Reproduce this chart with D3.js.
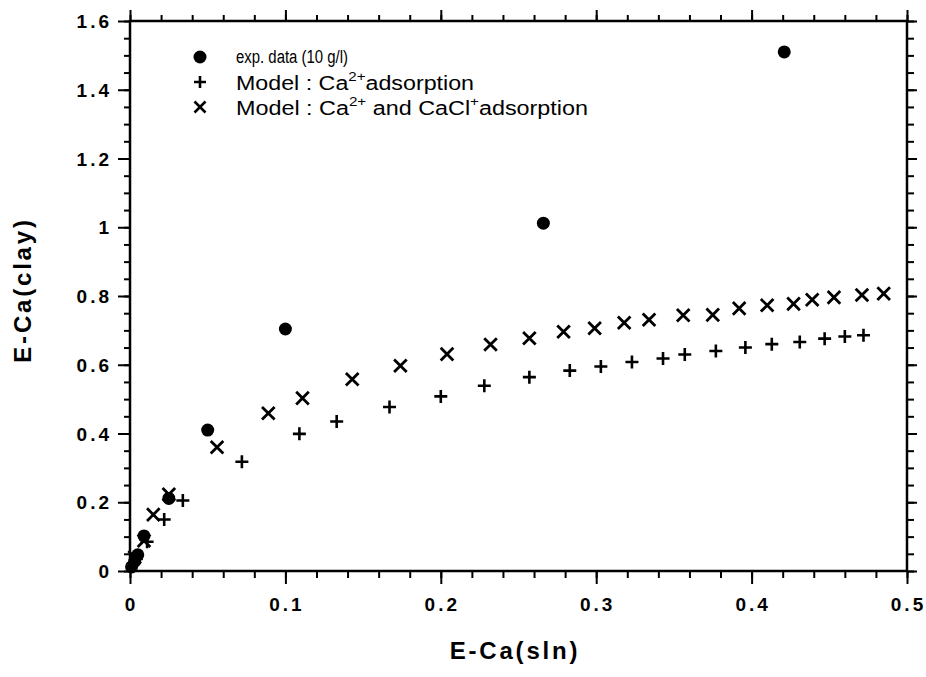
<!DOCTYPE html>
<html><head><meta charset="utf-8">
<script src="https://cdn.jsdelivr.net/npm/d3@7"></script>
<style>
body{margin:0;background:#fff}
svg{display:block}
.tick-label{font-family:"Liberation Sans",Arial,Helvetica,sans-serif;font-weight:bold;font-size:19px;letter-spacing:3px;fill:#000}
.axis-title{font-family:"Liberation Sans",Arial,Helvetica,sans-serif;font-weight:bold;font-size:24px;letter-spacing:2.8px;fill:#000}
.legend-text{font-family:"Liberation Sans",Arial,Helvetica,sans-serif;font-size:20px;fill:#000}
</style></head><body>
<svg id="chart" width="926" height="677"></svg>
<script>
// Experimental data (10 g/l)
const expX = [0.001, 0.003, 0.005, 0.009, 0.025, 0.050, 0.100, 0.266, 0.421];
const expY = [0.012, 0.028, 0.047, 0.102, 0.211, 0.410, 0.704, 1.012, 1.510];

// Model: Ca2+ adsorption
const caX = [0.004, 0.011, 0.022, 0.034, 0.072, 0.109, 0.133, 0.167, 0.200, 0.228, 0.257, 0.283,
             0.303, 0.323, 0.343, 0.357, 0.377, 0.396, 0.413, 0.431, 0.447, 0.460, 0.472];
const caY = [0.035, 0.085, 0.150, 0.205, 0.318, 0.399, 0.435, 0.477, 0.508, 0.539, 0.564, 0.583,
             0.595, 0.608, 0.618, 0.630, 0.640, 0.650, 0.660, 0.666, 0.676, 0.682, 0.686];

// Model: Ca2+ and CaCl+ adsorption
const caclX = [0.003, 0.009, 0.015, 0.025, 0.056, 0.089, 0.111, 0.143, 0.174, 0.204, 0.232, 0.257, 0.279,
               0.299, 0.318, 0.334, 0.356, 0.375, 0.392, 0.410, 0.427, 0.439, 0.453, 0.471, 0.485];
const caclY = [0.040, 0.088, 0.164, 0.223, 0.360, 0.459, 0.503, 0.558, 0.597, 0.631, 0.659, 0.677, 0.696,
               0.706, 0.722, 0.731, 0.744, 0.745, 0.764, 0.773, 0.777, 0.789, 0.796, 0.803, 0.807];

// Axis ticks
const xMajor = [0, 0.1, 0.2, 0.3, 0.4, 0.5];
const xTickLabels = ["0", "0.1", "0.2", "0.3", "0.4", "0.5"];
const yMajor = [0, 0.2, 0.4, 0.6, 0.8, 1.0, 1.2, 1.4, 1.6];
const yTickLabels = ["0", "0.2", "0.4", "0.6", "0.8", "1", "1.2", "1.4", "1.6"];

const svg = d3.select("#chart");
const plotLeft = 130, plotRight = 907, plotTop = 21, plotBottom = 571;

const x = d3.scaleLinear().domain([0, 0.5]).range([plotLeft, plotRight]);
const y = d3.scaleLinear().domain([0, 1.6]).range([plotBottom, plotTop]);

const xMinor = d3.range(0, 0.5001, 0.02).map(v => +v.toFixed(3));
const yMinor = d3.range(0, 1.6001, 0.05).map(v => +v.toFixed(3));

function styleAxis(g) {
  g.select(".domain").remove();
  g.selectAll(".tick line").attr("stroke", "#000").attr("stroke-width", 2);
  g.selectAll("text").remove();
}

// minor ticks
svg.append("g").attr("transform", `translate(0,${plotBottom})`)
  .call(d3.axisBottom(x).tickValues(xMinor).tickSize(7).tickFormat("")).call(styleAxis);
svg.append("g").attr("transform", `translate(0,${plotTop})`)
  .call(d3.axisTop(x).tickValues(xMinor).tickSize(6).tickFormat("")).call(styleAxis);
svg.append("g").attr("transform", `translate(${plotLeft},0)`)
  .call(d3.axisLeft(y).tickValues(yMinor).tickSize(6).tickFormat("")).call(styleAxis);
svg.append("g").attr("transform", `translate(${plotRight},0)`)
  .call(d3.axisRight(y).tickValues(yMinor).tickSize(7).tickFormat("")).call(styleAxis);

// major ticks
svg.append("g").attr("transform", `translate(0,${plotBottom})`)
  .call(d3.axisBottom(x).tickValues(xMajor).tickSize(13).tickFormat("")).call(styleAxis);
svg.append("g").attr("transform", `translate(0,${plotTop})`)
  .call(d3.axisTop(x).tickValues(xMajor).tickSize(11).tickFormat("")).call(styleAxis);
svg.append("g").attr("transform", `translate(${plotLeft},0)`)
  .call(d3.axisLeft(y).tickValues(yMajor).tickSize(12).tickFormat("")).call(styleAxis);
svg.append("g").attr("transform", `translate(${plotRight},0)`)
  .call(d3.axisRight(y).tickValues(yMajor).tickSize(10).tickFormat("")).call(styleAxis);

// frame
svg.append("rect")
  .attr("x", plotLeft).attr("y", plotTop)
  .attr("width", plotRight - plotLeft).attr("height", plotBottom - plotTop)
  .attr("fill", "none").attr("stroke", "#000").attr("stroke-width", 2.5);

// tick labels
svg.append("g").selectAll("text").data(xMajor).join("text")
  .attr("class", "tick-label")
  .attr("x", d => x(d) + 1.5)
  .attr("y", plotBottom + 40)
  .attr("text-anchor", "middle")
  .text((d, i) => xTickLabels[i]);

svg.append("g").selectAll("text").data(yMajor).join("text")
  .attr("class", "tick-label")
  .attr("x", plotLeft - 18)
  .attr("y", d => y(d) + 7)
  .attr("text-anchor", "end")
  .text((d, i) => yTickLabels[i]);

// axis titles
svg.append("text").attr("class", "axis-title")
  .attr("x", 515).attr("y", 659)
  .attr("text-anchor", "middle").text("E-Ca(sln)");
svg.append("text").attr("class", "axis-title")
  .attr("transform", "translate(31,290) rotate(-90)")
  .attr("text-anchor", "middle").text("E-Ca(clay)");

// marker shapes
const plusPath = s => `M${-s},0H${s}M0,${-s}V${s}`;
const crossPath = s => `M${-s},${-s}L${s},${s}M${-s},${s}L${s},${-s}`;

const caData = caX.map((v, i) => [v, caY[i]]);
const caclData = caclX.map((v, i) => [v, caclY[i]]);
const expData = expX.map((v, i) => [v, expY[i]]);

svg.append("g").selectAll("path").data(caData).join("path")
  .attr("transform", d => `translate(${x(d[0])},${y(d[1])})`)
  .attr("d", plusPath(6.5))
  .attr("stroke", "#000").attr("stroke-width", 2.6).attr("fill", "none");

svg.append("g").selectAll("path").data(caclData).join("path")
  .attr("transform", d => `translate(${x(d[0])},${y(d[1])})`)
  .attr("d", crossPath(6.3))
  .attr("stroke", "#000").attr("stroke-width", 2.8).attr("fill", "none");

svg.append("g").selectAll("circle").data(expData).join("circle")
  .attr("cx", d => x(d[0])).attr("cy", d => y(d[1]))
  .attr("r", 6.5).attr("fill", "#000");

// legend
const lg = svg.append("g");
lg.append("circle").attr("cx", 200).attr("cy", 57).attr("r", 6.5).attr("fill", "#000");
lg.append("path").attr("transform", "translate(200,82)").attr("d", plusPath(6))
  .attr("stroke", "#000").attr("stroke-width", 2.6);
lg.append("path").attr("transform", "translate(200,107)").attr("d", crossPath(5.5))
  .attr("stroke", "#000").attr("stroke-width", 2.6);

lg.append("text").attr("class", "legend-text").attr("x", 236).attr("y", 63)
  .style("font-size", "18px")
  .attr("textLength", 112).attr("lengthAdjust", "spacingAndGlyphs")
  .text("exp. data (10 g/l)");

const t2 = lg.append("text").attr("class", "legend-text").attr("x", 236).attr("y", 90)
  .attr("textLength", 238).attr("lengthAdjust", "spacingAndGlyphs");
t2.append("tspan").text("Model : Ca");
t2.append("tspan").attr("dy", -9).attr("font-size", 13).text("2+");
t2.append("tspan").attr("dy", 9).text("adsorption");

const t3 = lg.append("text").attr("class", "legend-text").attr("x", 236).attr("y", 115)
  .attr("textLength", 352).attr("lengthAdjust", "spacingAndGlyphs");
t3.append("tspan").text("Model : Ca");
t3.append("tspan").attr("dy", -9).attr("font-size", 13).text("2+");
t3.append("tspan").attr("dy", 9).text(" and CaCl");
t3.append("tspan").attr("dy", -9).attr("font-size", 13).text("+");
t3.append("tspan").attr("dy", 9).text("adsorption");
</script>
</body></html>
